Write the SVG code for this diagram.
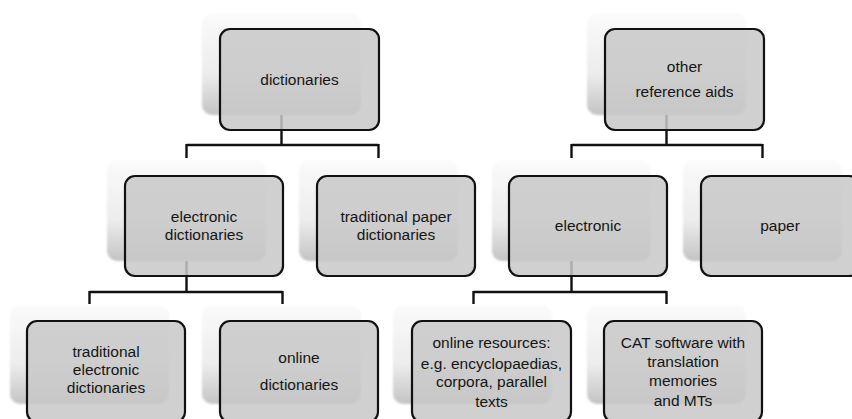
<svg xmlns="http://www.w3.org/2000/svg" width="852" height="419" viewBox="0 0 852 419">
<defs>
<linearGradient id="sg" x1="0" y1="0" x2="0" y2="1">
<stop offset="0" stop-color="#fbfbfb"/>
<stop offset="0.6" stop-color="#ececec"/>
<stop offset="1" stop-color="#c4c4c4"/>
</linearGradient>
<filter id="blur" x="-5%" y="-5%" width="110%" height="110%"><feGaussianBlur stdDeviation="0.8"/></filter>
<style>
.sh{fill:url(#sg);filter:url(#blur)}
.bx{fill:#c8c8c8;fill-opacity:0.85;stroke:#111;stroke-width:2.2}
.t{font-family:"Liberation Sans",Arial,sans-serif;font-size:15.5px;fill:#151515;text-anchor:middle}
.c{fill:none;stroke:#111;stroke-width:2.4}
</style>
</defs>
<g id="shadows">
<rect class="sh" x="202" y="13" width="159" height="102" rx="10"/>
<rect class="sh" x="587" y="13" width="159" height="102" rx="10"/>
<rect class="sh" x="107" y="160" width="159" height="101" rx="10"/>
<rect class="sh" x="299" y="160" width="159" height="101" rx="10"/>
<rect class="sh" x="492" y="160" width="159" height="101" rx="10"/>
<rect class="sh" x="683" y="160" width="159" height="101" rx="10"/>
<rect class="sh" x="10" y="305" width="159" height="99" rx="10"/>
<rect class="sh" x="202" y="305" width="159" height="99" rx="10"/>
<rect class="sh" x="393" y="305" width="159" height="99" rx="10"/>
<rect class="sh" x="587" y="305" width="159" height="99" rx="10"/>
</g>
<g id="connectors">
<path class="c" d="M281.5,115 V145 M186.5,145 H378.5 M186.5,144 V158 M378.5,144 V158"/>
<path class="c" d="M666.5,115 V145 M571.5,145 H762.5 M571.5,144 V158 M762.5,144 V158"/>
<path class="c" d="M186.5,261 V292 M89.5,292 H282.5 M89.5,291 V304 M282.5,291 V304"/>
<path class="c" d="M571.5,261 V292 M473.5,292 H666.5 M473.5,291 V304 M666.5,291 V304"/>
</g>
<g id="n-dictionaries">
<rect class="bx" x="220" y="29" width="159" height="101" rx="10"/>
<text class="t" x="299.5" y="85">dictionaries</text>
</g>
<g id="n-other">
<rect class="bx" x="605" y="29" width="159" height="101" rx="10"/>
<text class="t" x="684.5" y="72">other</text>
<text class="t" x="684.5" y="97">reference aids</text>
</g>
<g id="n-electronic-dictionaries">
<rect class="bx" x="125" y="176" width="158" height="100" rx="10"/>
<text class="t" x="204" y="222">electronic</text>
<text class="t" x="204" y="240">dictionaries</text>
</g>
<g id="n-traditional-paper">
<rect class="bx" x="317" y="176" width="158" height="100" rx="10"/>
<text class="t" x="396" y="222">traditional paper</text>
<text class="t" x="396" y="240">dictionaries</text>
</g>
<g id="n-electronic">
<rect class="bx" x="509" y="176" width="158" height="100" rx="10"/>
<text class="t" x="588" y="231">electronic</text>
</g>
<g id="n-paper">
<rect class="bx" x="701" y="176" width="158" height="100" rx="10"/>
<text class="t" x="780" y="231">paper</text>
</g>
<g id="n-traditional-electronic">
<rect class="bx" x="27" y="321" width="158" height="101" rx="10"/>
<text class="t" x="106" y="357">traditional</text>
<text class="t" x="106" y="375">electronic</text>
<text class="t" x="106" y="393">dictionaries</text>
</g>
<g id="n-online-dictionaries">
<rect class="bx" x="220" y="321" width="158" height="101" rx="10"/>
<text class="t" x="299" y="363">online</text>
<text class="t" x="299" y="390">dictionaries</text>
</g>
<g id="n-online-resources">
<rect class="bx" x="412" y="321" width="159" height="101" rx="10"/>
<text class="t" x="491.5" y="348">online resources:</text>
<text class="t" x="491.5" y="369">e.g. encyclopaedias,</text>
<text class="t" x="491.5" y="387">corpora, parallel</text>
<text class="t" x="491.5" y="407">texts</text>
</g>
<g id="n-cat">
<rect class="bx" x="604" y="321" width="158" height="101" rx="10"/>
<text class="t" x="683" y="348">CAT software with</text>
<text class="t" x="683" y="367">translation</text>
<text class="t" x="683" y="386">memories</text>
<text class="t" x="683" y="406">and MTs</text>
</g>
</svg>
